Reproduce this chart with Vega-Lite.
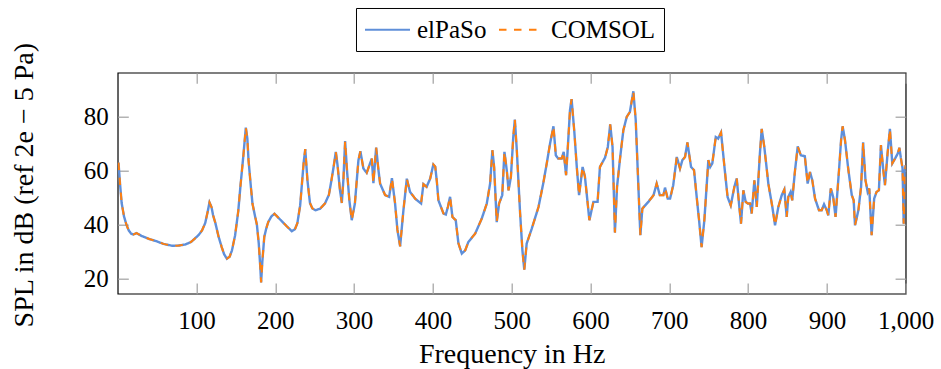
{
  "$schema": "https://vega.github.io/schema/vega-lite/v6.json",
  "width": 788,
  "height": 221,
  "autosize": "none",
  "padding": {"left": 117.7, "top": 72.7, "right": 35, "bottom": 75},
  "background": "white",
  "config": {
    "font": "Liberation Serif",
    "view": {"stroke": "black", "strokeWidth": 1.2},
    "axis": {"labelColor": "black", "titleColor": "black", "labelFont": "Liberation Serif", "titleFont": "Liberation Serif", "titleFontWeight": "normal", "grid": false, "domain": false, "tickColor": "#a0a0a0", "tickWidth": 1.2, "tickSize": -10.6, "labelFontSize": 25, "titleFontSize": 28, "labelFlush": false}
  },
  "data": {
    "values": [
      {"f": 1, "elPaSo": 63, "COMSOL": 63}, {"f": 3, "elPaSo": 55, "COMSOL": 55}, {"f": 5, "elPaSo": 48, "COMSOL": 48}, {"f": 8, "elPaSo": 43, "COMSOL": 43}, {"f": 11, "elPaSo": 40, "COMSOL": 40}, {"f": 14, "elPaSo": 37.8, "COMSOL": 37.8}, {"f": 17, "elPaSo": 36.6, "COMSOL": 36.6}, {"f": 20, "elPaSo": 36.3, "COMSOL": 36.3}, {"f": 24, "elPaSo": 36.8, "COMSOL": 36.8}, {"f": 30, "elPaSo": 35.8, "COMSOL": 35.8},
      {"f": 40, "elPaSo": 34.6, "COMSOL": 34.6}, {"f": 48, "elPaSo": 33.9, "COMSOL": 33.9}, {"f": 58, "elPaSo": 32.8, "COMSOL": 32.8}, {"f": 69, "elPaSo": 32.1, "COMSOL": 32.1}, {"f": 78, "elPaSo": 32.2, "COMSOL": 32.2}, {"f": 86, "elPaSo": 32.6, "COMSOL": 32.6}, {"f": 93, "elPaSo": 33.5, "COMSOL": 33.5}, {"f": 98, "elPaSo": 34.8, "COMSOL": 34.8}, {"f": 103, "elPaSo": 36.2, "COMSOL": 36.2}, {"f": 107, "elPaSo": 37.8, "COMSOL": 37.8},
      {"f": 111, "elPaSo": 40.5, "COMSOL": 40.5}, {"f": 114, "elPaSo": 44.5, "COMSOL": 44.5}, {"f": 116.5, "elPaSo": 48.2, "COMSOL": 48.2}, {"f": 119, "elPaSo": 46.5, "COMSOL": 46.5}, {"f": 121, "elPaSo": 43.5, "COMSOL": 43.5}, {"f": 124, "elPaSo": 40.5, "COMSOL": 40.5}, {"f": 128, "elPaSo": 35.5, "COMSOL": 35.5}, {"f": 132, "elPaSo": 31.6, "COMSOL": 31.6}, {"f": 135, "elPaSo": 29, "COMSOL": 29}, {"f": 138.5, "elPaSo": 27.3, "COMSOL": 27.3},
      {"f": 142, "elPaSo": 28, "COMSOL": 28}, {"f": 145, "elPaSo": 30.4, "COMSOL": 30.4}, {"f": 149, "elPaSo": 36, "COMSOL": 36}, {"f": 153, "elPaSo": 45, "COMSOL": 45}, {"f": 156, "elPaSo": 55, "COMSOL": 55}, {"f": 159.6, "elPaSo": 66, "COMSOL": 66}, {"f": 162.6, "elPaSo": 76, "COMSOL": 76}, {"f": 164.5, "elPaSo": 72, "COMSOL": 72}, {"f": 166, "elPaSo": 64, "COMSOL": 64}, {"f": 169, "elPaSo": 54, "COMSOL": 54},
      {"f": 171, "elPaSo": 47.8, "COMSOL": 47.8}, {"f": 174, "elPaSo": 43.5, "COMSOL": 43.5}, {"f": 176.6, "elPaSo": 40, "COMSOL": 40}, {"f": 179, "elPaSo": 33, "COMSOL": 33}, {"f": 181, "elPaSo": 24, "COMSOL": 24}, {"f": 182, "elPaSo": 18.5, "COMSOL": 18.5}, {"f": 183.5, "elPaSo": 26, "COMSOL": 26}, {"f": 186, "elPaSo": 35.4, "COMSOL": 35.4}, {"f": 188.5, "elPaSo": 38.5, "COMSOL": 38.5}, {"f": 191, "elPaSo": 40.9, "COMSOL": 40.9},
      {"f": 195, "elPaSo": 43, "COMSOL": 43}, {"f": 199, "elPaSo": 44, "COMSOL": 44}, {"f": 203, "elPaSo": 42.8, "COMSOL": 42.8}, {"f": 208, "elPaSo": 41.3, "COMSOL": 41.3}, {"f": 214, "elPaSo": 39.5, "COMSOL": 39.5}, {"f": 221, "elPaSo": 37.5, "COMSOL": 37.5}, {"f": 225, "elPaSo": 38.3, "COMSOL": 38.3}, {"f": 228, "elPaSo": 40.5, "COMSOL": 40.5}, {"f": 231.5, "elPaSo": 47, "COMSOL": 47}, {"f": 233.5, "elPaSo": 54, "COMSOL": 54},
      {"f": 236, "elPaSo": 63, "COMSOL": 63}, {"f": 238, "elPaSo": 68, "COMSOL": 68}, {"f": 240.8, "elPaSo": 56.4, "COMSOL": 56.4}, {"f": 244, "elPaSo": 48, "COMSOL": 48}, {"f": 247, "elPaSo": 46, "COMSOL": 46}, {"f": 251, "elPaSo": 45.3, "COMSOL": 45.3}, {"f": 257, "elPaSo": 45.9, "COMSOL": 45.9}, {"f": 263, "elPaSo": 47.8, "COMSOL": 47.8}, {"f": 268, "elPaSo": 51, "COMSOL": 51}, {"f": 271, "elPaSo": 56, "COMSOL": 56},
      {"f": 274, "elPaSo": 61.4, "COMSOL": 61.4}, {"f": 276.8, "elPaSo": 67, "COMSOL": 67}, {"f": 279, "elPaSo": 62, "COMSOL": 62}, {"f": 282, "elPaSo": 53, "COMSOL": 53}, {"f": 284.4, "elPaSo": 48, "COMSOL": 48}, {"f": 286.5, "elPaSo": 57, "COMSOL": 57}, {"f": 288.6, "elPaSo": 71, "COMSOL": 71}, {"f": 291, "elPaSo": 60, "COMSOL": 60}, {"f": 294, "elPaSo": 49, "COMSOL": 49}, {"f": 297, "elPaSo": 41.6, "COMSOL": 41.6},
      {"f": 301, "elPaSo": 47.8, "COMSOL": 47.8}, {"f": 305.5, "elPaSo": 63.9, "COMSOL": 63.9}, {"f": 308, "elPaSo": 67.2, "COMSOL": 67.2}, {"f": 311.8, "elPaSo": 60.8, "COMSOL": 60.8}, {"f": 316, "elPaSo": 59.2, "COMSOL": 59.2}, {"f": 320, "elPaSo": 62.5, "COMSOL": 62.5}, {"f": 322.5, "elPaSo": 64.5, "COMSOL": 64.5}, {"f": 324.5, "elPaSo": 55.4, "COMSOL": 55.4}, {"f": 328, "elPaSo": 68.6, "COMSOL": 68.6}, {"f": 331, "elPaSo": 60, "COMSOL": 60},
      {"f": 333, "elPaSo": 55.2, "COMSOL": 55.2}, {"f": 339.4, "elPaSo": 50.9, "COMSOL": 50.9}, {"f": 344.5, "elPaSo": 50.3, "COMSOL": 50.3}, {"f": 348, "elPaSo": 57.2, "COMSOL": 57.2}, {"f": 352, "elPaSo": 47.8, "COMSOL": 47.8}, {"f": 355, "elPaSo": 38, "COMSOL": 38}, {"f": 358.4, "elPaSo": 31.9, "COMSOL": 31.9}, {"f": 362.6, "elPaSo": 45.3, "COMSOL": 45.3}, {"f": 366.9, "elPaSo": 57, "COMSOL": 57}, {"f": 371, "elPaSo": 52.1, "COMSOL": 52.1},
      {"f": 377.5, "elPaSo": 49.6, "COMSOL": 49.6}, {"f": 385, "elPaSo": 47.8, "COMSOL": 47.8}, {"f": 388, "elPaSo": 55, "COMSOL": 55}, {"f": 392, "elPaSo": 54, "COMSOL": 54}, {"f": 396.5, "elPaSo": 57, "COMSOL": 57}, {"f": 400.6, "elPaSo": 62.3, "COMSOL": 62.3}, {"f": 403, "elPaSo": 61.5, "COMSOL": 61.5}, {"f": 405, "elPaSo": 56, "COMSOL": 56}, {"f": 407, "elPaSo": 49, "COMSOL": 49}, {"f": 413.4, "elPaSo": 44.1, "COMSOL": 44.1},
      {"f": 416.4, "elPaSo": 43.7, "COMSOL": 43.7}, {"f": 419, "elPaSo": 46.5, "COMSOL": 46.5}, {"f": 421.8, "elPaSo": 50.3, "COMSOL": 50.3}, {"f": 424.8, "elPaSo": 42.8, "COMSOL": 42.8}, {"f": 429, "elPaSo": 41.6, "COMSOL": 41.6}, {"f": 432.4, "elPaSo": 33, "COMSOL": 33}, {"f": 436.7, "elPaSo": 29.2, "COMSOL": 29.2}, {"f": 441, "elPaSo": 30.4, "COMSOL": 30.4}, {"f": 445, "elPaSo": 33.5, "COMSOL": 33.5}, {"f": 453.6, "elPaSo": 36.6, "COMSOL": 36.6},
      {"f": 462, "elPaSo": 42.2, "COMSOL": 42.2}, {"f": 468.4, "elPaSo": 47.8, "COMSOL": 47.8}, {"f": 472.6, "elPaSo": 55.2, "COMSOL": 55.2}, {"f": 475.5, "elPaSo": 67.6, "COMSOL": 67.6}, {"f": 477.7, "elPaSo": 61.4, "COMSOL": 61.4}, {"f": 481, "elPaSo": 40.9, "COMSOL": 40.9}, {"f": 484, "elPaSo": 47.8, "COMSOL": 47.8}, {"f": 488, "elPaSo": 50.9, "COMSOL": 50.9}, {"f": 490.8, "elPaSo": 67, "COMSOL": 67}, {"f": 494, "elPaSo": 59.5, "COMSOL": 59.5},
      {"f": 496, "elPaSo": 52.7, "COMSOL": 52.7}, {"f": 499, "elPaSo": 57.7, "COMSOL": 57.7}, {"f": 502, "elPaSo": 72.5, "COMSOL": 72.5}, {"f": 504, "elPaSo": 79, "COMSOL": 79}, {"f": 506.5, "elPaSo": 67.6, "COMSOL": 67.6}, {"f": 510.7, "elPaSo": 44.1, "COMSOL": 44.1}, {"f": 513.6, "elPaSo": 30.4, "COMSOL": 30.4}, {"f": 516, "elPaSo": 23.2, "COMSOL": 23.2}, {"f": 519, "elPaSo": 32.9, "COMSOL": 32.9}, {"f": 525.5, "elPaSo": 38.5, "COMSOL": 38.5},
      {"f": 534, "elPaSo": 46.5, "COMSOL": 46.5}, {"f": 540, "elPaSo": 55.2, "COMSOL": 55.2}, {"f": 544.5, "elPaSo": 62.7, "COMSOL": 62.7}, {"f": 548.7, "elPaSo": 70.1, "COMSOL": 70.1}, {"f": 553, "elPaSo": 76.5, "COMSOL": 76.5}, {"f": 556, "elPaSo": 65.7, "COMSOL": 65.7}, {"f": 559, "elPaSo": 64.5, "COMSOL": 64.5}, {"f": 563.5, "elPaSo": 64.5, "COMSOL": 64.5}, {"f": 566, "elPaSo": 67, "COMSOL": 67}, {"f": 569, "elPaSo": 58.3, "COMSOL": 58.3},
      {"f": 571, "elPaSo": 67.6, "COMSOL": 67.6}, {"f": 574, "elPaSo": 82.5, "COMSOL": 82.5}, {"f": 576, "elPaSo": 86.6, "COMSOL": 86.6}, {"f": 579.5, "elPaSo": 74.4, "COMSOL": 74.4}, {"f": 582.6, "elPaSo": 61.4, "COMSOL": 61.4}, {"f": 585.5, "elPaSo": 50.9, "COMSOL": 50.9}, {"f": 590, "elPaSo": 61.4, "COMSOL": 61.4}, {"f": 593, "elPaSo": 57.7, "COMSOL": 57.7}, {"f": 598.6, "elPaSo": 41.6, "COMSOL": 41.6}, {"f": 603.7, "elPaSo": 48.4, "COMSOL": 48.4},
      {"f": 609, "elPaSo": 48.4, "COMSOL": 48.4}, {"f": 612, "elPaSo": 61.4, "COMSOL": 61.4}, {"f": 618.5, "elPaSo": 64.9, "COMSOL": 64.9}, {"f": 622, "elPaSo": 68.8, "COMSOL": 68.8}, {"f": 625, "elPaSo": 77.2, "COMSOL": 77.2}, {"f": 628, "elPaSo": 68.8, "COMSOL": 68.8}, {"f": 630, "elPaSo": 47.8, "COMSOL": 47.8}, {"f": 631, "elPaSo": 37, "COMSOL": 37}, {"f": 633.7, "elPaSo": 54, "COMSOL": 54}, {"f": 637.5, "elPaSo": 64.5, "COMSOL": 64.5},
      {"f": 641.7, "elPaSo": 75, "COMSOL": 75}, {"f": 646, "elPaSo": 80, "COMSOL": 80}, {"f": 650, "elPaSo": 81.8, "COMSOL": 81.8}, {"f": 654.4, "elPaSo": 89.5, "COMSOL": 89.5}, {"f": 657.4, "elPaSo": 78.8, "COMSOL": 78.8}, {"f": 660.8, "elPaSo": 54, "COMSOL": 54}, {"f": 663.3, "elPaSo": 36, "COMSOL": 36}, {"f": 665.8, "elPaSo": 45.9, "COMSOL": 45.9}, {"f": 673.4, "elPaSo": 48.4, "COMSOL": 48.4}, {"f": 680, "elPaSo": 50.9, "COMSOL": 50.9},
      {"f": 684, "elPaSo": 55.2, "COMSOL": 55.2}, {"f": 688, "elPaSo": 50.9, "COMSOL": 50.9}, {"f": 692.5, "elPaSo": 50.9, "COMSOL": 50.9}, {"f": 694.6, "elPaSo": 53.7, "COMSOL": 53.7}, {"f": 698, "elPaSo": 49.6, "COMSOL": 49.6}, {"f": 701, "elPaSo": 49.6, "COMSOL": 49.6}, {"f": 705, "elPaSo": 54.6, "COMSOL": 54.6}, {"f": 709.5, "elPaSo": 65.1, "COMSOL": 65.1}, {"f": 713.6, "elPaSo": 60.8, "COMSOL": 60.8}, {"f": 716.6, "elPaSo": 63.9, "COMSOL": 63.9},
      {"f": 720, "elPaSo": 65.1, "COMSOL": 65.1}, {"f": 723, "elPaSo": 70.5, "COMSOL": 70.5}, {"f": 727.6, "elPaSo": 61.4, "COMSOL": 61.4}, {"f": 731.4, "elPaSo": 60.2, "COMSOL": 60.2}, {"f": 734.8, "elPaSo": 50.2, "COMSOL": 50.2}, {"f": 737.8, "elPaSo": 41.6, "COMSOL": 41.6}, {"f": 741, "elPaSo": 31.6, "COMSOL": 31.6}, {"f": 744.5, "elPaSo": 41.6, "COMSOL": 41.6}, {"f": 749.6, "elPaSo": 63.9, "COMSOL": 63.9}, {"f": 752, "elPaSo": 61.4, "COMSOL": 61.4},
      {"f": 754.6, "elPaSo": 62.7, "COMSOL": 62.7}, {"f": 759, "elPaSo": 72.5, "COMSOL": 72.5}, {"f": 762, "elPaSo": 71.9, "COMSOL": 71.9}, {"f": 765.7, "elPaSo": 74.2, "COMSOL": 74.2}, {"f": 770, "elPaSo": 61.4, "COMSOL": 61.4}, {"f": 774, "elPaSo": 50.2, "COMSOL": 50.2}, {"f": 778, "elPaSo": 47.1, "COMSOL": 47.1}, {"f": 782.6, "elPaSo": 54, "COMSOL": 54}, {"f": 785.6, "elPaSo": 57.1, "COMSOL": 57.1}, {"f": 788.5, "elPaSo": 47.8, "COMSOL": 47.8},
      {"f": 791, "elPaSo": 40.3, "COMSOL": 40.3}, {"f": 794, "elPaSo": 52.7, "COMSOL": 52.7}, {"f": 797, "elPaSo": 48.4, "COMSOL": 48.4}, {"f": 799.6, "elPaSo": 47.8, "COMSOL": 47.8}, {"f": 802.5, "elPaSo": 47.8, "COMSOL": 47.8}, {"f": 804.6, "elPaSo": 44.1, "COMSOL": 44.1}, {"f": 808, "elPaSo": 56.4, "COMSOL": 56.4}, {"f": 811, "elPaSo": 46.5, "COMSOL": 46.5}, {"f": 815, "elPaSo": 66.4, "COMSOL": 66.4}, {"f": 817.3, "elPaSo": 75.5, "COMSOL": 75.5},
      {"f": 820.6, "elPaSo": 68.8, "COMSOL": 68.8}, {"f": 825.7, "elPaSo": 55.2, "COMSOL": 55.2}, {"f": 830.8, "elPaSo": 46.5, "COMSOL": 46.5}, {"f": 834.2, "elPaSo": 39.7, "COMSOL": 39.7}, {"f": 838.4, "elPaSo": 46.5, "COMSOL": 46.5}, {"f": 842.7, "elPaSo": 50.9, "COMSOL": 50.9}, {"f": 846, "elPaSo": 53, "COMSOL": 53}, {"f": 849, "elPaSo": 42.8, "COMSOL": 42.8}, {"f": 851, "elPaSo": 50.2, "COMSOL": 50.2}, {"f": 854, "elPaSo": 52.1, "COMSOL": 52.1},
      {"f": 856, "elPaSo": 49, "COMSOL": 49}, {"f": 859.6, "elPaSo": 60.2, "COMSOL": 60.2}, {"f": 863, "elPaSo": 69, "COMSOL": 69}, {"f": 867, "elPaSo": 65.7, "COMSOL": 65.7}, {"f": 872, "elPaSo": 65.4, "COMSOL": 65.4}, {"f": 875.6, "elPaSo": 55.2, "COMSOL": 55.2}, {"f": 878.6, "elPaSo": 59.5, "COMSOL": 59.5}, {"f": 881.5, "elPaSo": 56.4, "COMSOL": 56.4}, {"f": 885, "elPaSo": 49.6, "COMSOL": 49.6}, {"f": 890, "elPaSo": 45.3, "COMSOL": 45.3},
      {"f": 893.4, "elPaSo": 45.3, "COMSOL": 45.3}, {"f": 896.4, "elPaSo": 47.5, "COMSOL": 47.5}, {"f": 899.8, "elPaSo": 45.3, "COMSOL": 45.3}, {"f": 901.8, "elPaSo": 43.4, "COMSOL": 43.4}, {"f": 905, "elPaSo": 53.4, "COMSOL": 53.4}, {"f": 908, "elPaSo": 50.2, "COMSOL": 50.2}, {"f": 911, "elPaSo": 42.8, "COMSOL": 42.8}, {"f": 915.4, "elPaSo": 60.2, "COMSOL": 60.2}, {"f": 918, "elPaSo": 71.3, "COMSOL": 71.3}, {"f": 920, "elPaSo": 76.5, "COMSOL": 76.5},
      {"f": 923, "elPaSo": 71.3, "COMSOL": 71.3}, {"f": 927.3, "elPaSo": 60.2, "COMSOL": 60.2}, {"f": 931.6, "elPaSo": 50.9, "COMSOL": 50.9}, {"f": 934, "elPaSo": 49, "COMSOL": 49}, {"f": 935.7, "elPaSo": 39.7, "COMSOL": 39.7}, {"f": 940, "elPaSo": 45.3, "COMSOL": 45.3}, {"f": 943.4, "elPaSo": 54, "COMSOL": 54}, {"f": 946, "elPaSo": 70.5, "COMSOL": 70.5}, {"f": 949, "elPaSo": 56.4, "COMSOL": 56.4}, {"f": 951.8, "elPaSo": 52.1, "COMSOL": 52.1},
      {"f": 953.8, "elPaSo": 53.4, "COMSOL": 53.4}, {"f": 956.8, "elPaSo": 36, "COMSOL": 36}, {"f": 960, "elPaSo": 49.6, "COMSOL": 49.6}, {"f": 963, "elPaSo": 52.1, "COMSOL": 52.1}, {"f": 966, "elPaSo": 52.7, "COMSOL": 52.7}, {"f": 968.6, "elPaSo": 69.5, "COMSOL": 69.5}, {"f": 971.6, "elPaSo": 60.2, "COMSOL": 60.2}, {"f": 973.7, "elPaSo": 54.6, "COMSOL": 54.6}, {"f": 977, "elPaSo": 66.4, "COMSOL": 66.4}, {"f": 980, "elPaSo": 75.5, "COMSOL": 75.5},
      {"f": 983, "elPaSo": 62.7, "COMSOL": 62.7}, {"f": 986.5, "elPaSo": 64.5, "COMSOL": 64.5}, {"f": 990, "elPaSo": 66.4, "COMSOL": 66.4}, {"f": 992, "elPaSo": 68.5, "COMSOL": 68.5}, {"f": 994, "elPaSo": 64.5, "COMSOL": 64.5}, {"f": 996, "elPaSo": 61, "COMSOL": 61}, {"f": 997.5, "elPaSo": 40.3, "COMSOL": 40.3}, {"f": 999, "elPaSo": 60, "COMSOL": 60}, {"f": 1000, "elPaSo": 62, "COMSOL": 62}
    ]
  },
  "transform": [{"fold": ["elPaSo", "COMSOL"], "as": ["series", "spl"]}],
  "layer": [
    {
      "transform": [{"filter": "datum.series === 'elPaSo'"}],
      "mark": {"type": "line", "strokeWidth": 2.4, "clip": true},
      "encoding": {
        "x": {"field": "f", "type": "quantitative", "scale": {"domain": [0, 1000], "nice": false, "zero": false},
          "axis": {"orient": "bottom", "values": [100, 200, 300, 400, 500, 600, 700, 800, 900, 1000], "format": ",d", "labelPadding": 25, "title": "Frequency in Hz", "titlePadding": 7}},
        "y": {"field": "spl", "type": "quantitative", "scale": {"domain": [14.3, 96.4], "nice": false, "zero": false},
          "axis": {"orient": "left", "values": [20, 40, 60, 80], "labelPadding": 20, "title": "SPL in dB (ref 2e − 5 Pa)", "titlePadding": 45, "titleY": 112}},
        "color": {"field": "series", "type": "nominal", "scale": {"domain": ["elPaSo", "COMSOL"], "range": ["#5f8fd9", "#ff7f0e"]},
          "legend": {"orient": "none", "legendX": 238.3, "legendY": -64.7, "direction": "horizontal", "title": null, "strokeColor": "black", "fillColor": "white", "padding": 8, "labelFontSize": 25, "labelFont": "Liberation Serif", "labelColor": "black", "symbolSize": 625, "symbolStrokeWidth": 2, "symbolType": "M-1,0L2.6,0", "labelOffset": 26, "columnPadding": 8}},
        "strokeDash": {"field": "series", "type": "nominal", "scale": {"domain": ["elPaSo", "COMSOL"], "range": [[1, 0], [7.5, 7.5]]}}
      }
    },
    {
      "transform": [{"filter": "datum.series === 'COMSOL'"}],
      "mark": {"type": "line", "strokeWidth": 2, "clip": true},
      "encoding": {
        "x": {"field": "f", "type": "quantitative",
          "axis": {"orient": "top", "values": [100, 200, 300, 400, 500, 600, 700, 800, 900, 1000], "labels": false, "title": null}},
        "y": {"field": "spl", "type": "quantitative",
          "axis": {"orient": "right", "values": [20, 40, 60, 80], "labels": false, "title": null}},
        "color": {"field": "series", "type": "nominal"},
        "strokeDash": {"field": "series", "type": "nominal"}
      }
    }
  ],
  "resolve": {"axis": {"x": "independent", "y": "independent"}}
}
